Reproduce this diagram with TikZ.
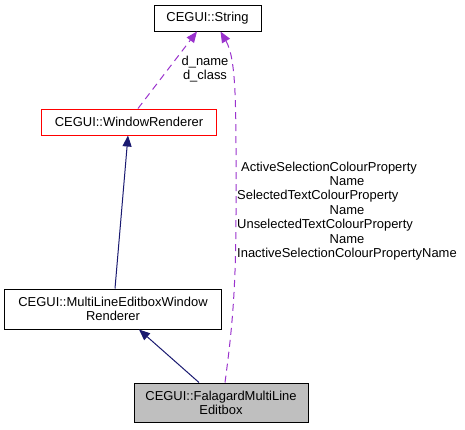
\documentclass[tikz,border=0pt]{standalone}
\usepackage{fontspec}
\setmainfont{Liberation Sans}
\usetikzlibrary{arrows.meta,calc}
\definecolor{depcol}{HTML}{9A32CD}
\definecolor{inhcol}{HTML}{191970}
\definecolor{boxgray}{HTML}{BFBFBF}
\begin{document}
\begin{tikzpicture}[x=1bp,y=-1bp,
  font=\fontsize{13}{14}\selectfont,
  cls/.style={draw=black, line width=1bp, inner sep=0pt, align=center, fill=white},
  inhedge/.style={draw=inhcol, line width=1bp, -{Triangle[length=11bp,width=9bp]}},
  depedge/.style={draw=depcol, line width=1bp, dash pattern=on 7bp off 5bp, -{Triangle[length=11bp,width=9bp]}},
  lbl/.style={inner sep=0pt, align=center}]
\useasboundingbox (0,0) rectangle (465,429);

\node[cls, minimum width=107bp, minimum height=26bp] (str) at (207.5,18) {CEGUI::String};
\node[cls, draw=red, minimum width=174bp, minimum height=26bp] (wr) at (129,122) {CEGUI::WindowRenderer};
\node[cls, minimum width=216bp, minimum height=40bp] (ml) at (113,309) {CEGUI::MultiLineEditboxWindow\\Renderer};
\node[cls, fill=boxgray, minimum width=174bp, minimum height=39bp] (fal) at (221,402.5) {CEGUI::FalagardMultiLine\\Editbox};

\draw[inhedge] ($(ml.north)+(2,0)$) -- ($(wr.south)+(-1,0)$);
\draw[inhedge] ($(fal.north)+(-22,0)$) -- ($(ml.south)+(26,0)$);
\draw[depedge] ($(wr.north)+(9,0)$) -- ($(str.south)+(-10.5,0)$);
\draw[depedge] ($(fal.north)+(4,0)$) .. controls (232,330) and (236,290) .. (236,210)
  .. controls (236,110) and (237,60) .. ($(str.south)+(13,0)$);

\node[lbl] (l1) at (205,69) {d\_name\\d\_class};
\node[lbl, anchor=west] (l2) at (237,211.5) {\fontsize{13}{14.5}\selectfont\begin{tabular}{@{}l@{}}
\hspace{4bp}ActiveSelectionColourProperty\\
\multicolumn{1}{@{}c@{}}{Name}\\
SelectedTextColourProperty\\
\multicolumn{1}{@{}c@{}}{Name}\\
UnselectedTextColourProperty\\
\multicolumn{1}{@{}c@{}}{Name}\\
InactiveSelectionColourPropertyName
\end{tabular}};
\end{tikzpicture}
\end{document}
